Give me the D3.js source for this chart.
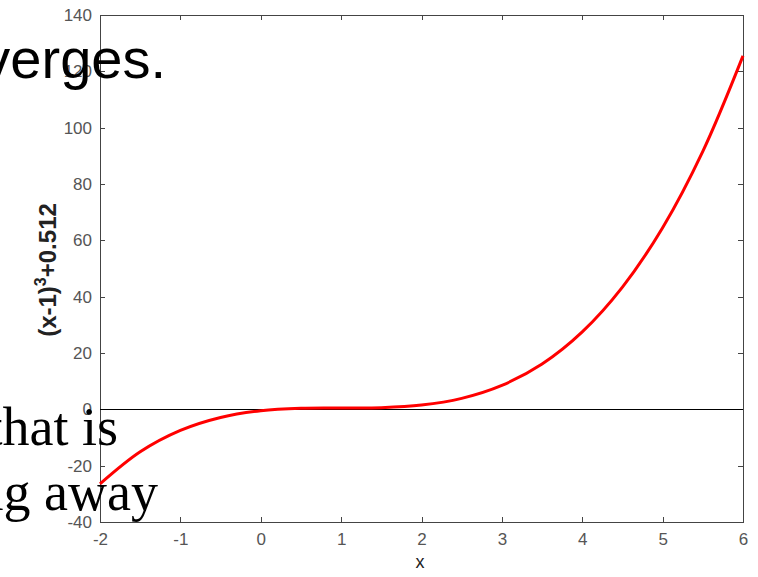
<!DOCTYPE html>
<html><head><meta charset="utf-8">
<script src="https://cdn.jsdelivr.net/npm/d3@7"></script>
<style>body{margin:0;background:#fff;}svg{display:block;}</style>
</head><body>
<script>
const xValues = [-2, -1.5, -1, -0.5, 0, 0.5, 1, 1.5, 2, 2.5, 3, 3.5, 4, 4.5, 5, 5.5, 6];
const yValues = [-26.5, -15.1, -7.5, -2.9, -0.5, 0.4, 0.5, 0.6, 1.5, 3.9, 8.5, 16.1, 27.5, 43.4, 64.5, 91.6, 125.5];
const xTicks = [-2, -1, 0, 1, 2, 3, 4, 5, 6];
const yTicks = [-40, -20, 0, 20, 40, 60, 80, 100, 120, 140];

const W = 758, H = 577;
const L = 100, R = 743, T = 15, B = 522;
const svg = d3.select("body").append("svg").attr("width", W).attr("height", H);
const x = d3.scaleLinear().domain([-2, 6]).range([L, R]);
const y = d3.scaleLinear().domain([-40, 140]).range([B, T]);
const axisColor = "#444";
const font = "Liberation Sans, Arial, sans-serif";

svg.append("rect").attr("x", L).attr("y", T).attr("width", R - L).attr("height", B - T)
  .attr("fill", "none").attr("stroke", axisColor).attr("stroke-width", 1).attr("shape-rendering", "crispEdges");

const fmt = d => String(d);
const ax = (g) => { g.select(".domain").remove(); g.selectAll("line").attr("stroke", axisColor); g.selectAll("text").attr("fill", "#555").attr("font-family", font).attr("font-size", 17); };
svg.append("g").attr("transform", `translate(0,${B})`).call(d3.axisBottom(x).tickValues(xTicks).tickFormat(fmt).tickSizeInner(-5).tickSizeOuter(0).tickPadding(11)).call(ax);
svg.append("g").attr("transform", `translate(0,${T})`).call(d3.axisTop(x).tickValues(xTicks).tickSizeInner(-5).tickSizeOuter(0).tickFormat("")).call(ax);
svg.append("g").attr("transform", `translate(${L},0)`).call(d3.axisLeft(y).tickValues(yTicks).tickFormat(fmt).tickSizeInner(-5).tickSizeOuter(0).tickPadding(8)).call(ax);
svg.append("g").attr("transform", `translate(${R},0)`).call(d3.axisRight(y).tickValues(yTicks).tickSizeInner(-5).tickSizeOuter(0).tickFormat("")).call(ax);
svg.selectAll("g.tick line").attr("shape-rendering", "crispEdges");

svg.append("line").attr("x1", L).attr("x2", R).attr("y1", y(0)).attr("y2", y(0))
  .attr("stroke", "#000").attr("stroke-width", 1).attr("shape-rendering", "crispEdges");

const pts = xValues.map((v, i) => [v, yValues[i]]);
svg.append("path").datum(pts)
  .attr("d", d3.line().x(d => x(d[0])).y(d => y(d[1])).curve(d3.curveCatmullRom))
  .attr("fill", "none").attr("stroke", "#ff0000").attr("stroke-width", 3);

svg.append("text").attr("x", 420).attr("y", 568).attr("text-anchor", "middle")
  .attr("font-family", font).attr("font-size", 18).attr("fill", "#222").text("x");
const yl = svg.append("text").attr("transform", "translate(56,270) rotate(-90)").attr("text-anchor", "middle")
  .attr("font-family", font).attr("font-size", 24).attr("font-weight", "bold").attr("fill", "#222");
yl.append("tspan").text("(x-1)");
yl.append("tspan").attr("font-size", 16).attr("dy", -10).text("3");
yl.append("tspan").attr("dy", 10).text("+0.512");

svg.append("text").attr("x", 166).attr("y", 78).attr("text-anchor", "end")
  .attr("font-family", font).attr("font-size", 56).attr("fill", "#000").text("diverges.");
const serif = "Liberation Serif, Times New Roman, serif";
svg.append("text").attr("x", 118).attr("y", 445).attr("text-anchor", "end")
  .attr("font-family", serif).attr("font-size", 54).attr("fill", "#000").text("that is");
svg.append("text").attr("x", 158).attr("y", 510).attr("text-anchor", "end")
  .attr("font-family", serif).attr("font-size", 54).attr("fill", "#000").text("moving away");
</script>
</body></html>
